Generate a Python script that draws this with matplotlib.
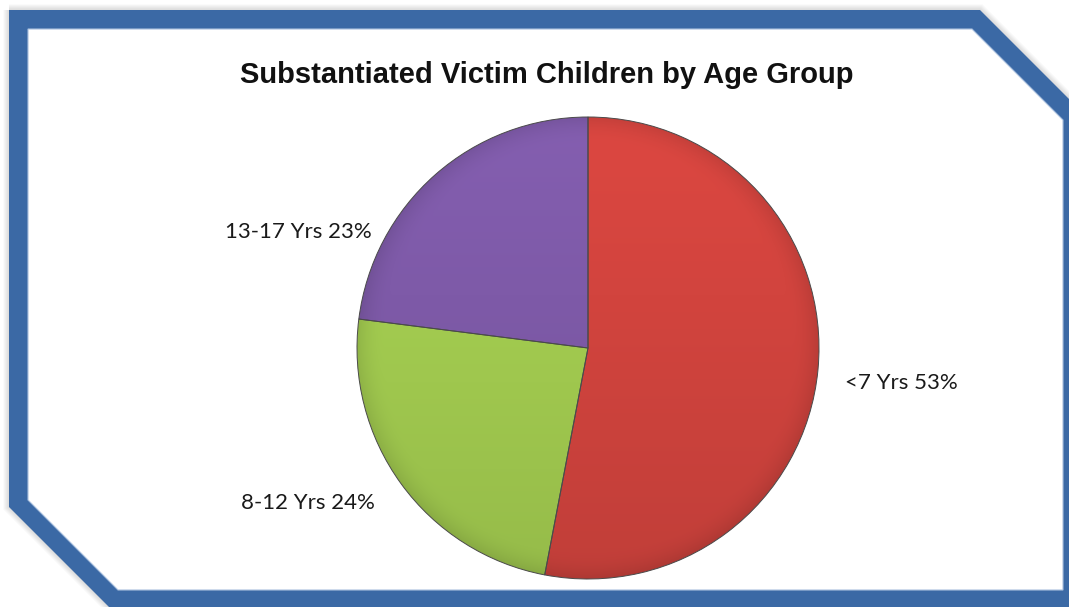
import matplotlib.pyplot as plt
import numpy as np
from matplotlib.patches import Polygon, PathPatch
from matplotlib.path import Path

# age groups and their share of substantiated victims
age_groups = ['<7 Yrs', '8-12 Yrs', '13-17 Yrs']
shares = [53, 24, 23]
slice_colors = ['#d2443e', '#a3cc50', '#7e5aa8']

W, H = 1069, 607
label_xy = [(901, 224), (308, 104), (298, 375)]


def shade_wedge(ax, wedge, color, cx, cy, r):
    """Fill a wedge with a soft top-to-bottom gradient and darker rim"""
    n = 400
    xs = np.linspace(cx - r, cx + r, n)
    ys = np.linspace(cy + r, cy - r, n)
    X, Y = np.meshgrid(xs, ys)
    t = (cy + r - Y) / (2 * r)
    d = np.hypot(X - cx, Y - cy) / r
    f = 1.05 - 0.13 * t
    f *= 1 - 0.10 * np.clip((d - 0.88) / 0.12, 0, 1) ** 2
    base = np.array(plt.matplotlib.colors.to_rgb(color))
    img = np.clip(base[None, None, :] * f[..., None], 0, 1)
    im = ax.imshow(img, extent=(cx - r, cx + r, cy - r, cy + r),
                   origin='upper', zorder=3, interpolation='bilinear')
    im.set_clip_path(wedge)


def flip(pts):
    return [(x, H - y) for x, y in pts]


def main():
    fig = plt.figure(figsize=(W / 100, H / 100), dpi=100)
    ax = fig.add_axes([0, 0, 1, 1])
    fig.patch.set_facecolor('white')

    # frame with clipped corners, built as a ring between two outlines
    outer = flip([(9, 10), (980, 10), (1085, 115), (1085, 610), (112, 610), (9, 507)])
    inner = flip([(28, 29), (972, 29), (1063, 120), (1063, 590), (118, 590), (28, 500)])

    for k in range(1, 8):
        ax.add_patch(Polygon(outer, closed=True, fill=False, edgecolor='#808080',
                             lw=1.2 * k, alpha=0.04, joinstyle='miter', zorder=1))
    verts = outer + [outer[0]] + inner[::-1] + [inner[-1]]
    codes = ([Path.MOVETO] + [Path.LINETO] * (len(outer) - 1) + [Path.CLOSEPOLY]) * 2
    ax.add_patch(Polygon(inner, closed=True, facecolor='white', edgecolor='none', zorder=1.5))
    ax.add_patch(PathPatch(Path(verts, codes), facecolor='#3b69a5', edgecolor='none', zorder=2))
    ax.add_patch(Polygon(inner, closed=True, fill=False, edgecolor='#a9c0de',
                         lw=0.8, joinstyle='miter', zorder=2.1))

    cx, cy, r = 588, H - 348, 231
    wedges, _ = ax.pie(shares, colors=slice_colors, startangle=90, counterclock=False,
                       center=(cx, cy), radius=r, frame=True,
                       wedgeprops=dict(edgecolor='none'))
    for w, c in zip(wedges, slice_colors):
        shade_wedge(ax, w, c, cx, cy, r)
        w.set_facecolor('none')
        w.set_edgecolor('#4a4a4a')
        w.set_linewidth(0.7)
        w.set_zorder(4)

    for name, val, (x, y) in zip(age_groups, shares, label_xy):
        ax.text(x, y, f'{name} {val}%', ha='center', va='center',
                fontsize=16, family='Lato', color='#1a1a1a', zorder=5)

    ax.text(547, H - 75, 'Substantiated Victim Children by Age Group', ha='center',
            va='center', fontsize=21, fontweight='bold', family='Liberation Sans',
            color='#111111', zorder=5)

    ax.set_xlim(0, W)
    ax.set_ylim(0, H)
    ax.set_aspect('auto')
    ax.axis('off')
    fig.savefig('out.png', dpi=100)
    plt.close(fig)


if __name__ == '__main__':
    main()
